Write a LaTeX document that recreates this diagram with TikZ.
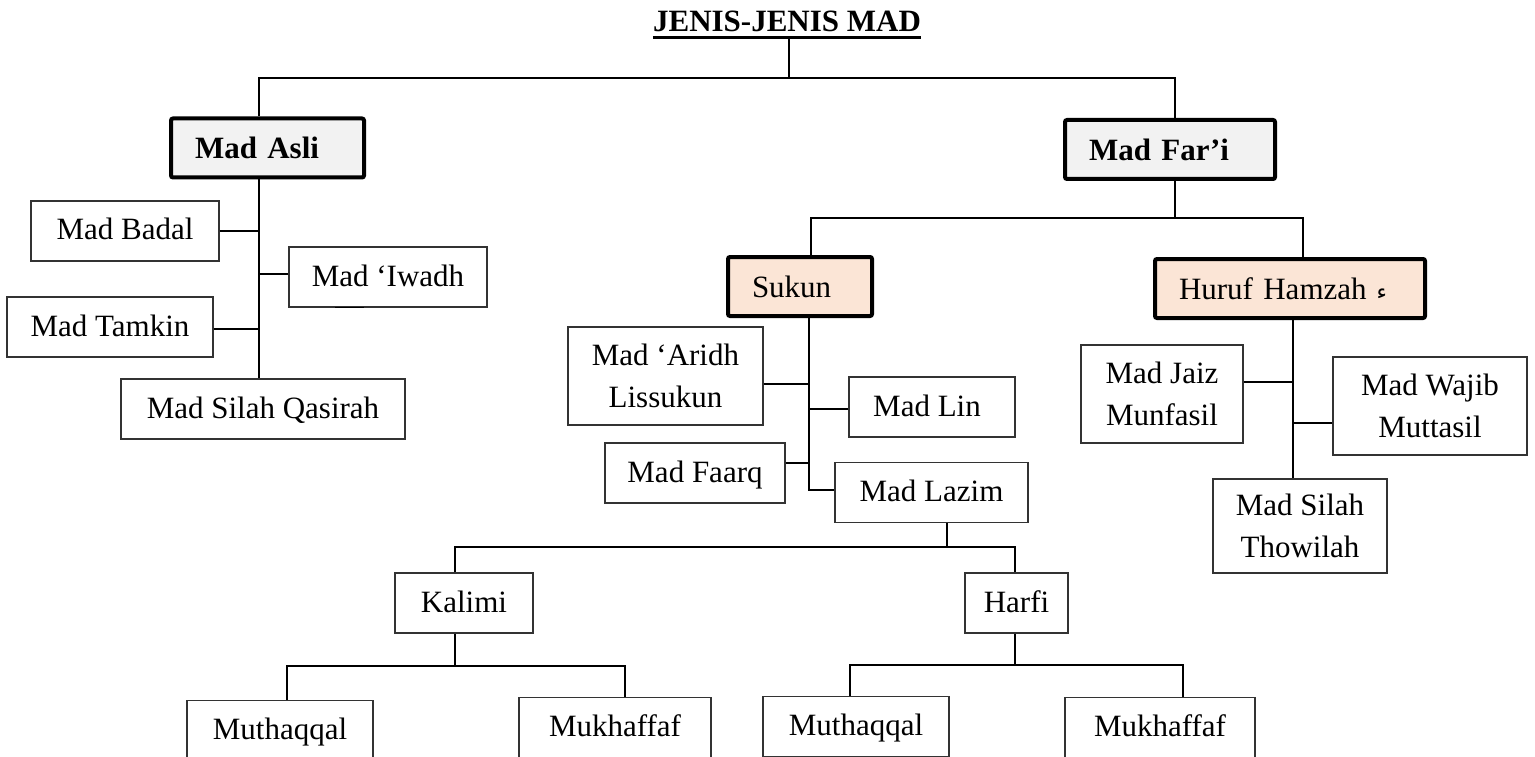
\documentclass[tikz,border=0pt]{standalone}
\usepackage{fontspec}
\setmainfont{Liberation Serif}
\newfontfamily\arabicfont[Script=Arabic]{DejaVu Sans}
\TeXXeTstate=1
\definecolor{headgray}{HTML}{F2F2F2}
\definecolor{peach}{HTML}{FBE5D6}

\begin{document}
\begin{tikzpicture}[x=1pt,y=-1pt,
    cell/.style={draw=black!80, line width=1.2pt, inner sep=0pt, align=center,
      font=\fontsize{31}{42}\selectfont},
    one/.style={cell, minimum height=60pt, text height=22pt, text depth=4pt},
    two/.style={cell},
    head/.style={draw, line width=4pt, rounded corners=2pt, inner xsep=24pt,
      inner ysep=0pt, align=left, minimum height=59pt,
      font=\fontsize{31}{42}\selectfont},
    link/.style={line width=2pt}]
  \useasboundingbox (0,0) rectangle (1535,757);
  \fill[white] (0,0) rectangle (1535,757);
  \clip (0,0) rectangle (1535,757);

  % title
  \node[inner sep=0pt, anchor=base, font=\fontsize{31}{42}\selectfont\bfseries]
    (title) at (787,32) {JENIS-JENIS MAD};
  \coordinate (ul) at ([yshift=-6pt]title.base);
  \draw[line width=3pt] (ul -| title.west) -- (ul -| title.east);

  % main heads
  \node[head, fill=headgray, text width=145pt] (asli) at (267.5,148) {\textbf{Mad Asli}};
  \node[head, fill=headgray, text width=162pt] (fari) at (1170,149.5) {\textbf{Mad Far’i}};
  \node[head, fill=peach, text width=96pt] (sukun) at (800,286.5) {Sukun};
  \node[head, fill=peach, text width=222pt] (hamzah) at (1290,288.5)
    {Huruf Hamzah\hspace{10pt}{\arabicfont\fontsize{22}{22}\selectfont\beginR ء\endR}};

  % Mad Asli
  \node[one, minimum width=188pt] (badal) at (125,231) {Mad Badal};
  \node[one, minimum width=198pt] (iwadh) at (388,277) {Mad ‘Iwadh};
  \node[one, minimum width=206pt] (tamkin) at (110,327) {Mad Tamkin};
  \node[one, minimum width=284pt] (qasirah) at (263,409) {Mad Silah Qasirah};

  % Sukun
  \node[two, minimum width=195pt, minimum height=98pt] (aridh) at (665.5,376) {Mad ‘Aridh\\Lissukun};
  \node[one, minimum width=166pt] (lin) at (932,407) {Mad Lin\hspace{10pt}};
  \node[one, minimum width=180pt] (faarq) at (695,473) {Mad Faarq};
  \node[one, minimum width=193pt] (lazim) at (931.5,492.5) {Mad Lazim};
  \node[one, minimum width=138pt] (kalimi) at (464,603) {Kalimi};
  \node[one, minimum width=103pt] (harfi) at (1016.5,603) {Harfi};
  \node[one, anchor=north, minimum width=186pt] (muthA) at (280,700) {Muthaqqal};
  \node[one, anchor=north, minimum width=192pt] (mukhA) at (615,697) {Mukhaffaf};
  \node[one, anchor=north, minimum width=186pt] (muthB) at (856,696) {Muthaqqal};
  \node[one, anchor=north, minimum width=190pt] (mukhB) at (1160,697) {Mukhaffaf};

  % Huruf Hamzah
  \node[two, minimum width=162pt, minimum height=98pt] (jaiz) at (1162,394) {Mad Jaiz\\Munfasil};
  \node[two, minimum width=194pt, minimum height=98pt] (wajib) at (1430,406) {Mad Wajib\\Muttasil};
  \node[two, minimum width=174pt, minimum height=94pt] (thowilah) at (1300,526) {Mad Silah\\Thowilah};

  % trunk points
  \coordinate (t0) at (789,78);
  \coordinate (t1) at (259,78);
  \coordinate (t2) at (1175,78);
  \coordinate (s1) at (811,218);
  \coordinate (h1) at (1303,218);
  \coordinate (s2) at (809,490);
  \coordinate (h2) at (1293,478);
  \coordinate (z1) at (947,547);
  \coordinate (k1) at (455,547);
  \coordinate (r1) at (1015,547);
  \coordinate (k2) at (455,666);
  \coordinate (m1) at (287,666);
  \coordinate (m2) at (625,666);
  \coordinate (r2) at (1015,665);
  \coordinate (n1) at (850,665);
  \coordinate (n2) at (1183,665);

  % connectors
  \draw[link] (t0 |- ul) -- (t0);
  \draw[link] (t1 |- asli.north) -- (t1) -- (t2) -- (t2 |- fari.north);
  \draw[link] (t1 |- asli.south) -- (t1 |- qasirah.north);
  \draw[link] (badal.east) -- (badal.east -| t1);
  \draw[link] ([yshift=3pt]iwadh.west) -- +(-30,0);
  \draw[link] ([yshift=-2pt]tamkin.east) -- +(44,0);
  \draw[line width=1.6pt] ([xshift=-53pt]iwadh.south) -- +(29,0);

  \draw[link] (t2 |- fari.south) -- (t2 |- s1);
  \draw[link] (s1 |- sukun.north) -- (s1) -- (h1) -- (h1 |- hamzah.north);

  \draw[link] (s2 |- sukun.south) -- (s2) -- (s2 -| lazim.west);
  \draw[link] ([yshift=-8pt]aridh.east) -- +(46,0);
  \draw[link] ([yshift=-2pt]lin.west) -- +(-39,0);
  \draw[link] ([yshift=10pt]faarq.east) -- +(24,0);

  \draw[link] (z1 |- lazim.south) -- (z1);
  \draw[link] (k1 |- kalimi.north) -- (k1) -- (r1) -- (r1 |- harfi.north);
  \draw[link] (k2 |- kalimi.south) -- (k2);
  \draw[link] (m1 |- muthA.north) -- (m1) -- (m2) -- (m2 |- mukhA.north);
  \draw[link] (r2 |- harfi.south) -- (r2);
  \draw[link] (n1 |- muthB.north) -- (n1) -- (n2) -- (n2 |- mukhB.north);

  \draw[link] (h2 |- hamzah.south) -- (h2 |- thowilah.north);
  \draw[link] ([yshift=12pt]jaiz.east) -- +(50,0);
  \draw[link] ([yshift=-17pt]wajib.west) -- +(-40,0);
\end{tikzpicture}
\end{document}
